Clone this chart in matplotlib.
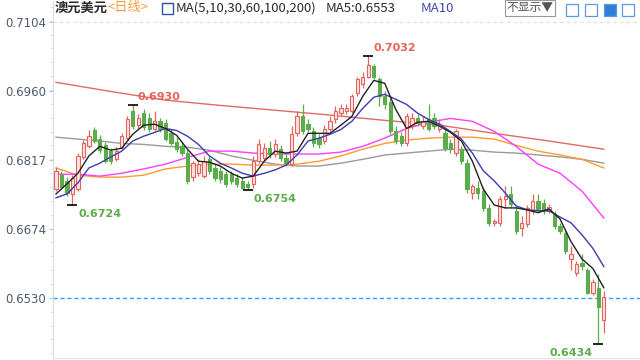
import matplotlib
matplotlib.use("Agg")
import matplotlib.pyplot as plt
from matplotlib.patches import Rectangle
from matplotlib.ticker import FixedLocator, AutoMinorLocator

plt.rcParams['font.family'] = ['Noto Sans CJK SC', 'DejaVu Sans']

# AUD/USD daily candles
opens = [0.6756, 0.6785, 0.6773, 0.6746, 0.6756, 0.6822, 0.6845, 0.6878, 0.6860, 0.6847,
         0.6835, 0.6818, 0.6843, 0.6862, 0.6918, 0.6889, 0.6914, 0.6903, 0.6882, 0.6897,
         0.6893, 0.6872, 0.6854, 0.6845, 0.6831, 0.6781, 0.6789, 0.6783, 0.6818, 0.6800,
         0.6794, 0.6787, 0.6787, 0.6779, 0.6773, 0.6767, 0.6767, 0.6814, 0.6820, 0.6841,
         0.6829, 0.6839, 0.6820, 0.6808, 0.6872, 0.6907, 0.6891, 0.6876, 0.6862, 0.6856,
         0.6882, 0.6901, 0.6914, 0.6918, 0.6918, 0.6955, 0.6974, 0.6990, 0.7011, 0.6984,
         0.6949, 0.6938, 0.6876, 0.6866, 0.6851, 0.6887, 0.6903, 0.6887, 0.6901, 0.6903,
         0.6880, 0.6872, 0.6851, 0.6831, 0.6839, 0.6810, 0.6748, 0.6758, 0.6752, 0.6717,
         0.6686, 0.6686, 0.6736, 0.6746, 0.6711, 0.6676, 0.6684, 0.6711, 0.6731, 0.6727,
         0.6711, 0.6704, 0.6680, 0.6665, 0.6611, 0.6582, 0.6603, 0.6587, 0.6541, 0.6551,
         0.6483]
highs = [0.6802, 0.6794, 0.6781, 0.6785, 0.6831, 0.6858, 0.6878, 0.6885, 0.6868, 0.6854,
         0.6841, 0.6843, 0.6872, 0.6909, 0.6930, 0.6912, 0.6922, 0.6914, 0.6918, 0.6903,
         0.6901, 0.6880, 0.6864, 0.6854, 0.6837, 0.6814, 0.6818, 0.6825, 0.6825, 0.6808,
         0.6802, 0.6794, 0.6794, 0.6787, 0.6781, 0.6773, 0.6825, 0.6860, 0.6851, 0.6856,
         0.6860, 0.6847, 0.6829, 0.6887, 0.6918, 0.6932, 0.6901, 0.6885, 0.6870, 0.6889,
         0.6907, 0.6928, 0.6932, 0.6932, 0.6953, 0.6990, 0.7000, 0.7032, 0.7017, 0.6990,
         0.6959, 0.6945, 0.6887, 0.6874, 0.6914, 0.6914, 0.6912, 0.6907, 0.6932, 0.6914,
         0.6901, 0.6880, 0.6860, 0.6882, 0.6845, 0.6818, 0.6767, 0.6773, 0.6760, 0.6725,
         0.6694, 0.6742, 0.6762, 0.6762, 0.6721, 0.6700, 0.6723, 0.6746, 0.6746, 0.6736,
         0.6725, 0.6711, 0.6686, 0.6672, 0.6638, 0.6607, 0.6622, 0.6593, 0.6570, 0.6580,
         0.6545]
lows = [0.6752, 0.6756, 0.6742, 0.6724, 0.6752, 0.6818, 0.6841, 0.6851, 0.6831, 0.6810,
        0.6808, 0.6814, 0.6839, 0.6858, 0.6880, 0.6882, 0.6878, 0.6874, 0.6876, 0.6874,
        0.6856, 0.6847, 0.6833, 0.6825, 0.6767, 0.6773, 0.6783, 0.6779, 0.6787, 0.6773,
        0.6769, 0.6760, 0.6767, 0.6760, 0.6756, 0.6754, 0.6758, 0.6810, 0.6814, 0.6820,
        0.6822, 0.6814, 0.6804, 0.6804, 0.6866, 0.6870, 0.6874, 0.6843, 0.6841, 0.6849,
        0.6876, 0.6893, 0.6907, 0.6912, 0.6914, 0.6949, 0.6967, 0.6986, 0.6984, 0.6928,
        0.6922, 0.6870, 0.6849, 0.6845, 0.6845, 0.6880, 0.6887, 0.6880, 0.6876, 0.6880,
        0.6874, 0.6835, 0.6831, 0.6825, 0.6808, 0.6748, 0.6736, 0.6736, 0.6711, 0.6680,
        0.6680, 0.6680, 0.6717, 0.6719, 0.6663, 0.6659, 0.6678, 0.6704, 0.6709, 0.6704,
        0.6707, 0.6674, 0.6663, 0.6622, 0.6587, 0.6576, 0.6587, 0.6537, 0.6535, 0.6434,
        0.6458]
closes = [0.6794, 0.6760, 0.6748, 0.6779, 0.6825, 0.6851, 0.6866, 0.6856, 0.6837, 0.6814,
          0.6814, 0.6835, 0.6866, 0.6901, 0.6887, 0.6903, 0.6885, 0.6880, 0.6897, 0.6880,
          0.6860, 0.6851, 0.6839, 0.6831, 0.6773, 0.6810, 0.6808, 0.6814, 0.6794, 0.6779,
          0.6777, 0.6767, 0.6773, 0.6767, 0.6758, 0.6760, 0.6814, 0.6849, 0.6841, 0.6829,
          0.6849, 0.6820, 0.6810, 0.6870, 0.6907, 0.6876, 0.6880, 0.6851, 0.6849, 0.6880,
          0.6897, 0.6918, 0.6924, 0.6924, 0.6949, 0.6984, 0.6990, 0.7015, 0.6990, 0.6949,
          0.6932, 0.6876, 0.6856, 0.6851, 0.6907, 0.6903, 0.6893, 0.6897, 0.6882, 0.6887,
          0.6891, 0.6841, 0.6839, 0.6876, 0.6814, 0.6756, 0.6762, 0.6748, 0.6717, 0.6686,
          0.6690, 0.6736, 0.6742, 0.6725, 0.6669, 0.6686, 0.6717, 0.6731, 0.6715, 0.6711,
          0.6719, 0.6680, 0.6669, 0.6628, 0.6622, 0.6601, 0.6597, 0.6541, 0.6562, 0.6510,
          0.6531]

# moving averages
fast_days = list(range(0, 101, 2))
ma5 = [0.6746, 0.6767, 0.6789, 0.6825, 0.6845, 0.6837, 0.6841, 0.6870, 0.6889, 0.6891,
       0.6882, 0.6868, 0.6839, 0.6814, 0.6812, 0.6804, 0.6789, 0.6779, 0.6783, 0.6814,
       0.6835, 0.6831, 0.6835, 0.6872, 0.6872, 0.6872, 0.6889, 0.6907, 0.6949, 0.6982,
       0.6976, 0.6922, 0.6882, 0.6895, 0.6897, 0.6887, 0.6874, 0.6856, 0.6814, 0.6756,
       0.6723, 0.6717, 0.6717, 0.6713, 0.6707, 0.6715, 0.6694, 0.6647, 0.6611, 0.6591,
       0.6551]
ma10 = [0.6738, 0.6746, 0.6769, 0.6800, 0.6810, 0.6823, 0.6835, 0.6856, 0.6866, 0.6874,
        0.6882, 0.6878, 0.6866, 0.6849, 0.6825, 0.6810, 0.6800, 0.6789, 0.6783, 0.6789,
        0.6796, 0.6806, 0.6827, 0.6856, 0.6862, 0.6870, 0.6880, 0.6897, 0.6924, 0.6947,
        0.6953, 0.6943, 0.6932, 0.6914, 0.6901, 0.6891, 0.6876, 0.6860, 0.6831, 0.6794,
        0.6773, 0.6748, 0.6721, 0.6713, 0.6711, 0.6711, 0.6698, 0.6686, 0.6661, 0.6633,
        0.6595]
slow_days = list(range(0, 101, 4))
ma30 = [0.6787, 0.6787, 0.6783, 0.6789, 0.6798, 0.6808, 0.6822, 0.6835, 0.6835, 0.6831,
        0.6829, 0.6829, 0.6829, 0.6833, 0.6845, 0.6862, 0.6882, 0.6895, 0.6903, 0.6897,
        0.6876, 0.6845, 0.6808, 0.6789, 0.6752, 0.6696]
ma60 = [0.6800, 0.6785, 0.6781, 0.6781, 0.6785, 0.6798, 0.6804, 0.6808, 0.6808, 0.6806,
        0.6806, 0.6808, 0.6814, 0.6825, 0.6839, 0.6851, 0.6858, 0.6862, 0.6864, 0.6864,
        0.6860, 0.6847, 0.6835, 0.6827, 0.6818, 0.6800]
ma100 = [0.6864, 0.6860, 0.6856, 0.6851, 0.6849, 0.6845, 0.6843, 0.6837, 0.6825, 0.6816,
         0.6808, 0.6804, 0.6804, 0.6810, 0.6818, 0.6827, 0.6831, 0.6835, 0.6839, 0.6837,
         0.6833, 0.6831, 0.6827, 0.6823, 0.6818, 0.6810]
ma200_days = list(range(0, 101, 10))
ma200 = [0.6978, 0.6959, 0.6941, 0.6930, 0.6920, 0.6910, 0.6899, 0.6889, 0.6872, 0.6856,
         0.6839]

ytick_vals = [0.7104, 0.6960, 0.6817, 0.6674, 0.6530]
last_price = 0.6530
# (day, price, label) for the marked highs / lows
marks = [(14, 0.6930, '0.6930'), (57, 0.7032, '0.7032'),
         (3, 0.6724, '0.6724'), (35, 0.6754, '0.6754'), (99, 0.6434, '0.6434')]

UP = '#e8625c'
DOWN = '#5cab4c'

fig = plt.figure(figsize=(6.4, 3.6), dpi=100)
ax = fig.add_axes([53/640, 2/360, 587/640, 356/360])

days = range(len(closes))
for d in days:
    up = closes[d] >= opens[d]
    col = UP if up else DOWN
    ax.vlines(d, lows[d], highs[d], color=col, lw=0.9, zorder=3)
    lo, hi = min(opens[d], closes[d]), max(opens[d], closes[d])
    h = max(hi - lo, 0.00008)
    ax.bar(d, h, bottom=lo, width=0.6, color='#fde3e3' if up else DOWN,
           edgecolor=col, linewidth=0.8, zorder=4)

ax.plot(ma200_days, ma200, color='#e06a64', lw=1.0, zorder=2)
ax.plot(slow_days, ma100, color='#9a9a9a', lw=1.0, zorder=2)
ax.plot(slow_days, ma60, color='#ff9a2e', lw=1.0, zorder=2)
ax.plot(slow_days, ma30, color='#ff3cff', lw=1.0, zorder=2)
ax.plot(fast_days, ma10, color='#3c3cb0', lw=1.0, zorder=5)
ax.plot(fast_days, ma5, color='#222222', lw=1.0, zorder=6)

ax.axhline(last_price, color='#3d9bff', lw=1.0, ls=(0, (3, 2)), zorder=1)
ax.axhline(ytick_vals[0], color='#dcdcdc', lw=0.8, ls=(0, (3, 3)), zorder=0)

for d, p, txt in marks:
    ax.plot(d, p, marker='_', color='black', ms=7, mew=1.2, zorder=7)
    is_high = p >= highs[d]
    col = UP if is_high else DOWN
    if d == 99:
        off, ha = (-6, -9), 'right'
    elif is_high:
        off, ha = (5, 8), 'left'
    else:
        off, ha = (6, -9), 'left'
    ax.annotate(txt, (d, p), xytext=off, textcoords='offset pixels', ha=ha,
                va='center', color=col, fontsize=8, fontweight='bold',
                family='DejaVu Sans', zorder=8)

ax.set_xlim(-0.55, 106.6)
ax.set_ylim(0.6405, 0.7145)
ax.set_xticks([])
ax.yaxis.set_major_locator(FixedLocator(ytick_vals))
ax.set_yticklabels([f'{v:.4f}' for v in ytick_vals])
ax.yaxis.set_minor_locator(AutoMinorLocator(5))
ax.tick_params(axis='y', which='major', length=3, color='#b8c4d8',
               labelcolor='#4e5a6c', labelsize=8.5, pad=2)
ax.tick_params(axis='y', which='minor', length=2, color='#d0d8e6')
for lbl in ax.get_yticklabels():
    lbl.set_family('DejaVu Sans')
for s in ['top', 'right']:
    ax.spines[s].set_visible(False)
ax.spines['left'].set_color('#d4dcea')
ax.spines['bottom'].set_color('#e2e2e2')

# header line
ty = 1 - 8/360
fig.text(55/640, ty, '澳元美元', color='#2a2a2a', fontsize=9.5, va='center',
         fontweight='bold')
fig.text(108/640, ty, '<日线>', color='#ff9a3c', fontsize=9.5, va='center')
fig.add_artist(Rectangle((162/640, 1 - 14/360), 11/640, 11/360,
                         transform=fig.transFigure, fill=False,
                         edgecolor='#3050a0', lw=1))
fig.text(176/640, ty, 'MA(5,10,30,60,100,200)', color='#2a2a2a', fontsize=9.5, va='center')
fig.text(326/640, ty, 'MA5:0.6553', color='#2a2a2a', fontsize=9.5, va='center')
fig.text(421/640, ty, 'MA10', color='#4444b0', fontsize=9.5, va='center')

fig.text(530/640, ty, '不显示▼', color='#555555', fontsize=8.5, va='center', ha='center',
         bbox=dict(boxstyle='square,pad=0.15', fc='white', ec='#999999', lw=0.8))
for k, x0 in enumerate([566, 585, 604, 622]):
    filled = k == 2
    fig.add_artist(Rectangle((x0/640, 1 - 16/360), 12/640, 12/360,
                             transform=fig.transFigure,
                             facecolor='#2f7fd8' if filled else 'white',
                             edgecolor='#5a9ae0', lw=0.9))

fig.savefig('out.png', dpi=100)
